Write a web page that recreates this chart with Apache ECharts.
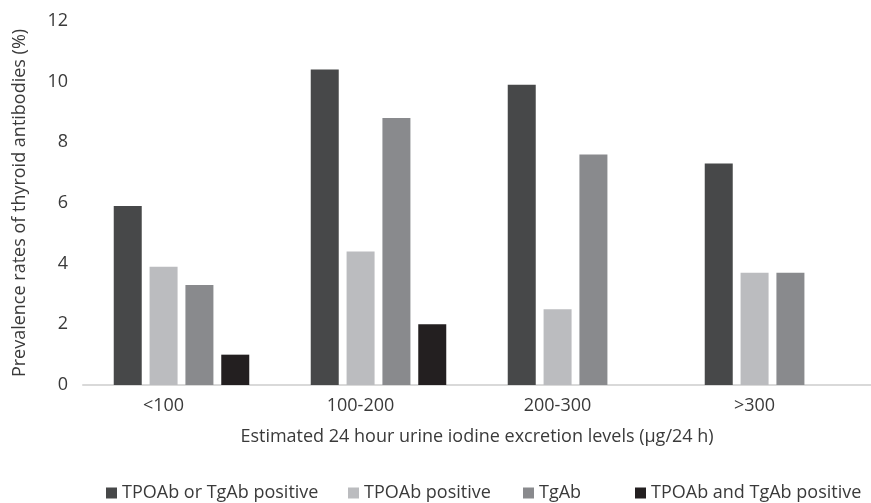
<!DOCTYPE html>
<html>
<head>
<meta charset="utf-8">
<script src="https://cdn.jsdelivr.net/npm/echarts@6/dist/echarts.min.js"></script>
<style>
  html, body { margin: 0; padding: 0; background: #fff; }
  #main { width: 871px; height: 503px; }
</style>
</head>
<body>
<div id="main"></div>
<script>
// categories on the x axis
var categories = ['<100', '100-200', '200-300', '>300'];
// series names
var seriesNames = ['TPOAb or TgAb positive', 'TPOAb positive', 'TgAb', 'TPOAb and TgAb positive'];
// values per series (%)
var eitherPositive = [5.9, 10.4, 9.9, 7.3];
var tpoPositive = [3.9, 4.4, 2.5, 3.7];
var tgAb = [3.3, 8.8, 7.6, 3.7];
var bothPositive = [1.0, 2.0, 0, 0];
var yTicks = [0, 2, 4, 6, 8, 10, 12];

var seriesData = [eitherPositive, tpoPositive, tgAb, bothPositive];
var colors = ['#474849', '#bbbcbf', '#898a8d', '#231f20'];
var legendLeft = [101, 343, 518, 630];

var textColor = '#3a3a3a';
var font = 'Open Sans';
var fs = 18;

var myChart = echarts.init(document.getElementById('main'));

var series = seriesNames.map(function (name, i) {
  return {
    name: name,
    type: 'bar',
    data: seriesData[i],
    barWidth: 28,
    barGap: '28%',
    itemStyle: { color: colors[i] }
  };
});

// one legend per item so each sits where the original put it
var legends = seriesNames.map(function (name, i) {
  return {
    data: [name],
    left: legendLeft[i],
    top: 479,
    itemWidth: 11,
    itemHeight: 11,
    icon: 'rect',
    textStyle: { color: textColor, fontFamily: font, fontSize: fs }
  };
});

var option = {
  animation: false,
  color: colors,
  grid: { left: 83, right: 0, top: 21, bottom: 118 },
  legend: legends,
  xAxis: {
    type: 'category',
    data: categories,
    name: 'Estimated 24 hour urine iodine excretion levels (µg/24 h)',
    nameLocation: 'middle',
    nameGap: 43,
    nameTextStyle: { color: textColor, fontFamily: font, fontSize: fs },
    axisLine: { lineStyle: { color: '#d9d9d9', width: 2 } },
    axisTick: { show: false },
    axisLabel: {
      color: textColor, fontFamily: font, fontSize: fs, margin: 12,
      padding: [0, 36, 0, 0]
    }
  },
  yAxis: {
    type: 'value',
    min: yTicks[0],
    max: yTicks[yTicks.length - 1],
    interval: yTicks[1] - yTicks[0],
    name: 'Prevalence rates of thyroid antibodies (%)',
    nameLocation: 'middle',
    nameGap: 54,
    nameTextStyle: { color: textColor, fontFamily: font, fontSize: fs },
    axisLine: { show: false },
    axisTick: { show: false },
    splitLine: { show: false },
    axisLabel: { color: textColor, fontFamily: font, fontSize: fs, margin: 15 }
  },
  series: series
};

myChart.setOption(option);
</script>
</body>
</html>
